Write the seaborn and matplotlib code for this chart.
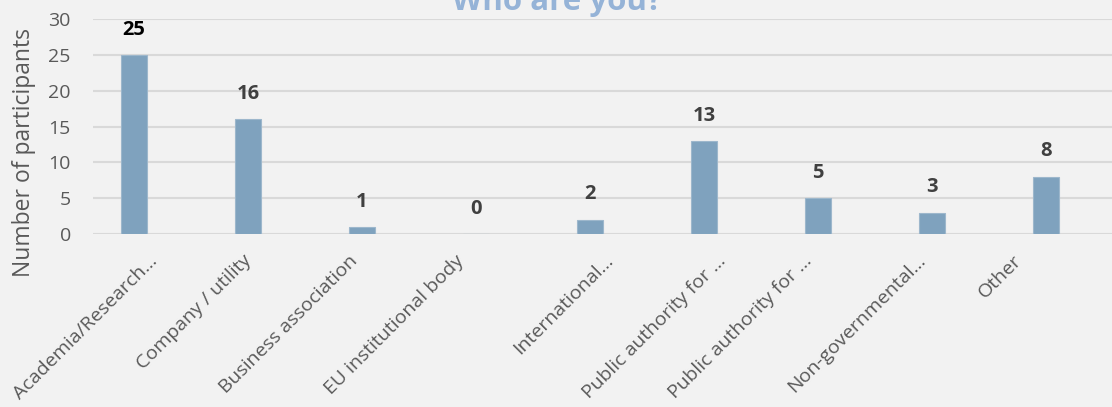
import matplotlib
matplotlib.use("Agg")
import matplotlib.pyplot as plt
import matplotlib.transforms as mtransforms
import seaborn as sns
import pandas as pd

categories = [
    "Academia/Research...",
    "Company / utility",
    "Business association",
    "EU institutional body",
    "International...",
    "Public authority for ...",
    "Public authority for ...",
    "Non-governmental...",
    "Other",
]
participants = [25, 16, 1, 0, 2, 13, 5, 3, 8]
y_ticks = [0, 5, 10, 15, 20, 25, 30]

# horizontal nudge (px) of each rotated category label
label_nudge = [14, -6, -14, -21, 14, 13, -15, -16, -33]

BG = "#f2f2f2"
BAR = "#7fa2be"
GRID = "#d9d9d9"
TEXT = "#595959"

sns.set_theme(style="white")
plt.rcParams["font.family"] = ["Open Sans", "DejaVu Sans"]

W, H = 1112, 407
fig = plt.figure(figsize=(W / 100, H / 100), dpi=100, facecolor=BG)
left, right, top, bottom = 93, 1112, 19, 234
ax = fig.add_axes([left / W, 1 - bottom / H, (right - left) / W, (bottom - top) / H])
ax.set_facecolor(BG)

df = pd.DataFrame({"pos": list(range(len(categories))), "value": participants})
sns.barplot(data=df, x="pos", y="value", color=BAR, width=0.23,
            saturation=1, edgecolor="#9db7cc", linewidth=0.8, ax=ax, zorder=3)

ax.set_xlim(-0.36, 8.58)
ax.set_ylim(0, 30)
ax.set_yticks(y_ticks)
ax.yaxis.grid(True, color=GRID, linewidth=1.5, zorder=0)
ax.set_axisbelow(True)
for s in ax.spines.values():
    s.set_visible(False)

ax.tick_params(axis="y", length=0, pad=16, labelsize=14, labelcolor=TEXT)
ax.tick_params(axis="x", length=0, pad=4, labelsize=14, labelcolor=TEXT)
ax.set_xticks(range(len(categories)))
ax.set_xticklabels(categories, rotation=45, ha="right", rotation_mode="anchor")
for lbl, dx in zip(ax.get_xticklabels(), label_nudge):
    shift = mtransforms.ScaledTranslation(dx / 100, -12 / 100, fig.dpi_scale_trans)
    lbl.set_transform(lbl.get_transform() + shift)

ax.set_xlabel("")
ax.set_ylabel("Number of participants", fontsize=16.5, color=TEXT)
ax.yaxis.set_label_coords(-0.056, 0.379)

for i, v in enumerate(participants):
    ax.annotate(str(v), (i, v), xytext=(0, 11), textcoords="offset points",
                ha="center", va="bottom", fontsize=14.5, fontweight="bold",
                color="black" if i == 0 else "#404040")

fig.text(557 / W, 1 - 10 / H, "Who are you?", ha="center", va="baseline",
         fontsize=22.5, fontweight="bold", color="#95b3d7")

fig.savefig("out.png", dpi=100, facecolor=BG)
